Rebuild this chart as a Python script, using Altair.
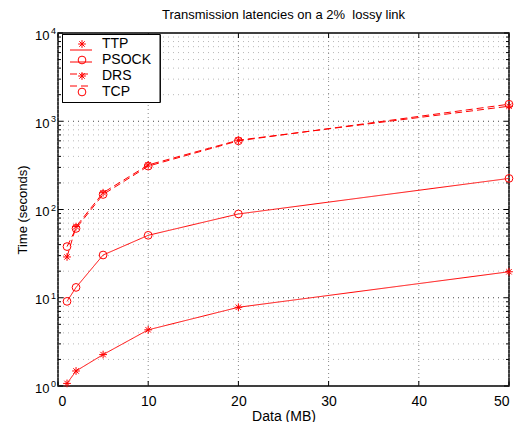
import altair as alt
import pandas as pd

# ---- data ----
x_vals = [1, 2, 5, 10, 20, 50]
ttp = [1.07, 1.48, 2.27, 4.33, 7.8, 19.7]
psock = [9.1, 13.1, 30.5, 51, 89, 225]
drs = [29, 64, 155, 320, 610, 1480]
tcp = [38, 61, 148, 310, 600, 1560]
series_names = ["TTP", "PSOCK", "DRS", "TCP"]
x_ticks = [0, 10, 20, 30, 40, 50]
y_decades = [1, 10, 100, 1000, 10000]
exponents = ["0", "1", "2", "3", "4"]
title_text = "Transmission latencies on a 2% \u00a0lossy link"

W, H = 451, 353
RED = "#ff0000"
FONT = "Liberation Sans"
ASTER = "M-1,0L1,0M0,-1L0,1M-0.7,-0.7L0.7,0.7M-0.7,0.7L0.7,-0.7"
shapes = [ASTER, "circle", ASTER, "circle"]
dashes = [[1, 0], [1, 0], [7, 4], [7, 4]]

rows = []
for name, vals in zip(series_names, [ttp, psock, drs, tcp]):
    for x, v in zip(x_vals, vals):
        rows.append({"series": name, "data": x, "time": v})
df = pd.DataFrame(rows)

minor = [m * d for d in [1, 10, 100, 1000] for m in range(2, 10)]
ytick_df = pd.DataFrame({
    "v": y_decades + minor,
    "kind": ["major"] * len(y_decades) + ["minor"] * len(minor),
})
xtick_df = pd.DataFrame({"v": x_ticks})
exp_df = pd.DataFrame({"v": y_decades, "e": exponents})
legend_df = pd.DataFrame({"series": series_names})

xs = alt.Scale(domain=[0, 50], nice=False, zero=False)
ys = alt.Scale(type="log", domain=[1, 10000], nice=False)
dash_scale = alt.Scale(domain=series_names, range=dashes)
shape_scale = alt.Scale(domain=series_names, range=shapes)
leg_y = alt.Scale(domain=series_names, range=[11, 59], padding=0)

# grid
ygrid = alt.Chart(ytick_df).mark_rule(strokeDash=[1, 4], strokeWidth=1).encode(
    y=alt.Y("v:Q", scale=ys, axis=alt.Axis(
        values=y_decades, labelExpr="'10'", ticks=False, tickSize=0, domain=False,
        grid=False, labelFontSize=13, labelPadding=9, labelOffset=2,
        labelColor="black", title="Time (seconds)", titleFontSize=13,
        titleFontWeight="normal", titleColor="black", titlePadding=5)),
    x=alt.value(0), x2=alt.value(W),
    color=alt.Color("kind:N", scale=alt.Scale(domain=["major", "minor"],
                                               range=["#444444", "#b8b8b8"]), legend=None),
)
xgrid = alt.Chart(xtick_df).mark_rule(strokeDash=[1, 3], strokeWidth=1, color="#888888").encode(
    x=alt.X("v:Q", scale=xs, axis=alt.Axis(
        values=x_ticks, ticks=False, tickSize=0, domain=False, grid=False,
        labelFontSize=14, labelPadding=8, labelColor="black",
        title="Data (MB)", titleFontSize=14, titleFontWeight="normal",
        titleColor="black", titlePadding=1)),
    y=alt.value(0), y2=alt.value(H),
)

# inward ticks
def ytick_layer(x1, x2, kind):
    return alt.Chart(ytick_df).transform_filter(alt.datum.kind == kind).mark_rule(
        color="black", strokeWidth=1).encode(
        y=alt.Y("v:Q", scale=ys, axis=None), x=alt.value(x1), x2=alt.value(x2))

ticks_l_major = ytick_layer(0, 5, "major")
ticks_l_minor = ytick_layer(0, 3, "minor")
ticks_r_major = ytick_layer(W - 5, W, "major")
ticks_r_minor = ytick_layer(W - 3, W, "minor")
ticks_b = alt.Chart(xtick_df).mark_rule(color="black").encode(
    x=alt.X("v:Q", scale=xs, axis=None), y=alt.value(H - 5), y2=alt.value(H))
ticks_t = alt.Chart(xtick_df).mark_rule(color="black").encode(
    x=alt.X("v:Q", scale=xs, axis=None), y=alt.value(0), y2=alt.value(5))

# exponents of y labels
exps = alt.Chart(exp_df).mark_text(align="left", baseline="alphabetic", fontSize=9,
                                    font=FONT, color="black", dy=1).encode(
    y=alt.Y("v:Q", scale=ys, axis=None), x=alt.value(-7), text="e:N")

# data
lines = alt.Chart(df).mark_line(color=RED, strokeWidth=1).encode(
    x=alt.X("data:Q", scale=xs, axis=None),
    y=alt.Y("time:Q", scale=ys, axis=None),
    strokeDash=alt.StrokeDash("series:N", scale=dash_scale, legend=None),
    detail="series:N",
)
points = alt.Chart(df).mark_point(color=RED, filled=False, size=60, strokeWidth=1, opacity=1).encode(
    x=alt.X("data:Q", scale=xs, axis=None),
    y=alt.Y("time:Q", scale=ys, axis=None),
    shape=alt.Shape("series:N", scale=shape_scale, legend=None),
)

# legend
leg_box = alt.Chart(legend_df).mark_rect(fill="white", stroke="black", strokeWidth=1).encode(
    x=alt.value(4.5), x2=alt.value(102), y=alt.value(1.5), y2=alt.value(69.5))
leg_lines = alt.Chart(legend_df).mark_rule(color=RED, strokeWidth=1).encode(
    x=alt.value(12), x2=alt.value(34),
    y=alt.Y("series:N", scale=leg_y, axis=None),
    strokeDash=alt.StrokeDash("series:N", scale=dash_scale, legend=None),
)
leg_pts = alt.Chart(legend_df).mark_point(color=RED, filled=False, size=60, strokeWidth=1, opacity=1).encode(
    x=alt.value(24),
    y=alt.Y("series:N", scale=leg_y, axis=None),
    shape=alt.Shape("series:N", scale=shape_scale, legend=None),
)
leg_text = alt.Chart(legend_df).mark_text(align="left", baseline="middle", fontSize=14,
                                          font=FONT, color="black").encode(
    x=alt.value(44),
    y=alt.Y("series:N", scale=leg_y, axis=None),
    text="series:N",
)

chart = alt.layer(
    ygrid, xgrid, ticks_l_major, ticks_l_minor, ticks_r_major, ticks_r_minor,
    ticks_b, ticks_t, exps, lines, points, leg_box, leg_lines, leg_pts, leg_text,
).resolve_scale(y="independent", x="independent").properties(
    width=W, height=H,
    title=alt.TitleParams(title_text, fontSize=13, font=FONT, fontWeight="normal",
                          color="black", anchor="middle", offset=5),
    autosize=alt.AutoSizeParams(type="none"),
    padding={"left": 58, "top": 33, "right": 14, "bottom": 36},
).configure(font=FONT, background="white").configure_view(
    stroke="black", strokeWidth=1.5)

chart.save("out.html", embed_options={"renderer": "svg", "actions": False})
